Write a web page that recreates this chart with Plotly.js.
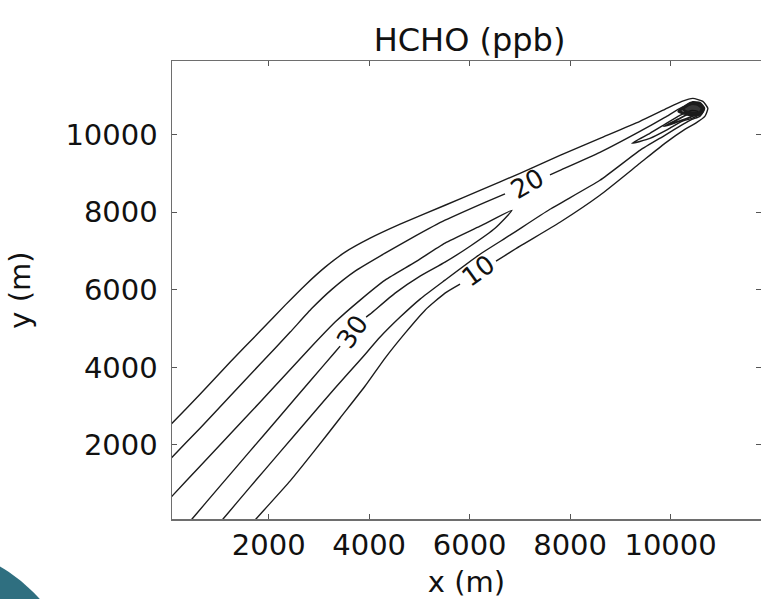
<!DOCTYPE html>
<html>
<head>
<meta charset="utf-8">
<script src="https://cdn.plot.ly/plotly-3.0.1.min.js"></script>
<style>
html,body{margin:0;padding:0;background:#ffffff;}
#chart{width:761px;height:599px;}
</style>
</head>
<body>
<div id="chart"></div>
<script>
// Contour levels (ppb) and contour paths (x, y in metres)
const levels = [10, 20, 30, 30, 40, 50, 60];

const c10_x = [-357, 81, 638, 1234, 1831, 2328, 2726, 3124, 3521, 4019, 4616, 5510, 6207, 7002, 7798, 8593, 9389, 9886, 10225, 10443, 10642, 10742, 10682, 10523, 10284, 9886, 9389, 8593, 7798, 7002, 6525, null, 5809, 5510, 5113, 4715, 4317, 3919, 3422, 2925, 2428, 1751, 1433];
const c10_y = [2000, 2567, 3313, 4137, 4936, 5605, 6120, 6584, 6970, 7330, 7691, 8180, 8566, 9004, 9468, 9905, 10343, 10652, 10858, 10935, 10858, 10678, 10472, 10317, 10137, 9777, 9262, 8438, 7742, 7124, 6738, null, 6146, 5914, 5476, 4884, 4240, 3519, 2695, 1871, 1073, 95, -395];

const c20_x = [-357, 81, 638, 1234, 1831, 2428, 2865, 3263, 3720, 4317, 4914, 5510, 6306, 6704, null, 7599, 7798, 8593, 9389, 9886, 10225, 10423, 10582, 10662, 10582, 10423, 10244, 9886, 9389, 8593, 7599, 6803, 6207, 5510, 5013, 4616, 4218, 3820, 3322, 2825, 2229, 1632, 1095, 737];
const c20_y = [1099, 1691, 2438, 3262, 4086, 4910, 5528, 6017, 6481, 6944, 7382, 7794, 8257, 8476, null, 8966, 9081, 9545, 10086, 10446, 10704, 10781, 10755, 10626, 10472, 10395, 10266, 9983, 9596, 8824, 8077, 7408, 6918, 6249, 5760, 5296, 4781, 4189, 3468, 2721, 1820, 919, 95, -446];

const c30a_x = [-357, 81, 638, 1234, 1831, 2328, 2825, 3322, 3820, 4317, 4914, 5510, 6207, 6843, 6505, 6008, 5510, 5013, 4516, 4019, 3939, null, 3422, 3322, 2825, 2229, 1632, 1035, 478, 140];
const c30a_y = [69, 687, 1459, 2283, 3107, 3803, 4498, 5167, 5734, 6249, 6712, 7202, 7639, 8051, 7588, 7124, 6712, 6352, 5914, 5373, 5296, null, 4549, 4395, 3648, 2747, 1846, 944, 95, -446];

const c30b_x = [9230, 9588, 9886, 10185, 10423, 10543, 10543, 10423, 10225, 9946, 9588, 9230];
const c30b_y = [9777, 10034, 10266, 10498, 10626, 10601, 10498, 10420, 10343, 10137, 9905, 9777];

const c40_x = [9866, 10145, 10384, 10483, 10384, 10105, 9866];
const c40_y = [10214, 10395, 10549, 10523, 10446, 10317, 10214];

const c50_x = [10164, 10304, 10443, 10582, 10662, 10602, 10463, 10304, 10164];
const c50_y = [10600, 10740, 10830, 10810, 10680, 10540, 10500, 10540, 10600];

const c60_x = [10244, 10384, 10523, 10622, 10582, 10463, 10324, 10244];
const c60_y = [10660, 10790, 10790, 10680, 10570, 10550, 10590, 10660];

// Inline contour labels
const labelText = ['10', '20', '30'];
const labelX = [6167, 7142, 3661];
const labelY = [6480, 8721, 4910];
const labelAngle = [-36, -30, -55];

// Axis ticks
const xTicks = [2000, 4000, 6000, 8000, 10000];
const xTickText = ['2000', '4000', '6000', '8000', '10000'];
const yTicks = [2000, 4000, 6000, 8000, 10000];
const yTickText = ['2000', '4000', '6000', '8000', '10000'];

const paths = [
  [c10_x, c10_y], [c20_x, c20_y], [c30a_x, c30a_y], [c30b_x, c30b_y],
  [c40_x, c40_y], [c50_x, c50_y], [c60_x, c60_y]
];
const widths = [1.4, 1.4, 1.4, 1.5, 1.8, 3, 2.6];

const traces = paths.map((p, i) => ({
  type: 'scatter',
  mode: 'lines',
  x: p[0],
  y: p[1],
  name: String(levels[i]),
  connectgaps: false,
  fill: i === paths.length - 1 ? 'toself' : 'none',
  fillcolor: 'rgba(20,20,20,0.85)',
  line: {color: '#1c1c1c', width: widths[i], shape: 'spline', smoothing: 0.5},
  hoverinfo: 'skip',
  showlegend: false
}));

const FONT = 'DejaVu Sans, Liberation Sans, Arial, sans-serif';

const annotations = labelText.map((t, i) => ({
  x: labelX[i], y: labelY[i], xref: 'x', yref: 'y',
  text: t, showarrow: false, textangle: labelAngle[i],
  font: {family: FONT, size: 26, color: '#111'},
  xanchor: 'center', yanchor: 'middle'
}));

const axisCommon = {
  showgrid: false, zeroline: false, showline: true, mirror: 'ticks',
  linecolor: '#6e6e6e', linewidth: 1.5,
  ticks: 'inside', ticklen: 5, tickwidth: 1, tickcolor: '#555',
  tickfont: {family: FONT, size: 29, color: '#111'},
  tickmode: 'array'
};

const layout = {
  width: 761, height: 599,
  margin: {l: 172, r: 0, t: 61, b: 80},
  paper_bgcolor: '#ffffff', plot_bgcolor: '#ffffff',
  font: {family: FONT, color: '#111'},
  title: {
    text: 'HCHO (ppb)', font: {family: FONT, size: 32, color: '#111'},
    xref: 'container', x: 0.617, xanchor: 'center',
    yref: 'container', y: 0.933, yanchor: 'middle'
  },
  xaxis: Object.assign({}, axisCommon, {
    range: [75, 11800], tickvals: xTicks, ticktext: xTickText,
    ticklabelstandoff: 0,
    title: {text: 'x (m)', font: {family: FONT, size: 29, color: '#111'}, standoff: 19}
  }),
  yaxis: Object.assign({}, axisCommon, {
    range: [90, 11900], tickvals: yTicks, ticktext: yTickText,
    ticklabelstandoff: 7,
    title: {text: 'y (m)', font: {family: FONT, size: 29, color: '#111'}, standoff: 26}
  }),
  annotations: annotations,
  shapes: [{
    type: 'circle', xref: 'paper', yref: 'paper',
    x0: -0.6995, x1: -0.1562, y0: -0.7555, y1: -0.0568,
    fillcolor: '#2f6f80', line: {width: 0}, layer: 'above'
  }]
};

Plotly.newPlot('chart', traces, layout, {staticPlot: true, displayModeBar: false});
</script>
</body>
</html>
